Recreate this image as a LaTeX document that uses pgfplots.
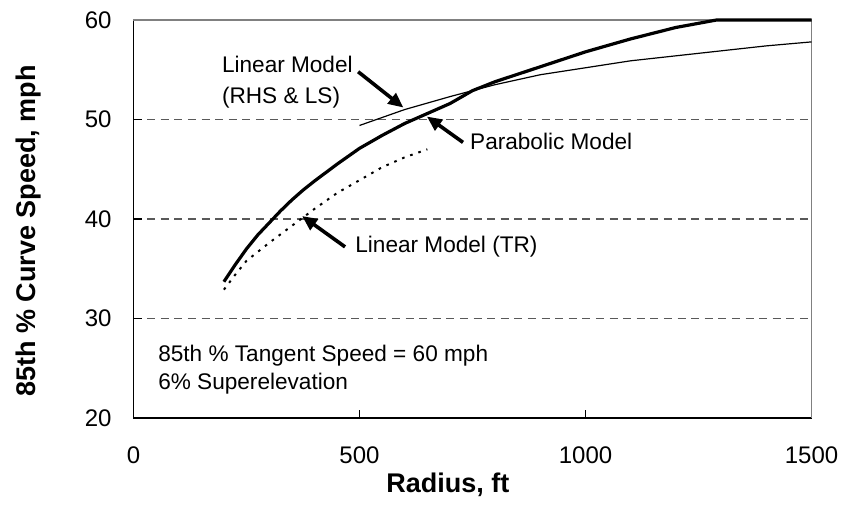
\documentclass[border=0pt]{standalone}
\usepackage{fontspec}
\setmainfont{Liberation Sans}
\usepackage{pgfplots}
\pgfplotsset{compat=1.18}
\usetikzlibrary{arrows.meta}

\begin{document}
\begin{tikzpicture}
\begin{axis}[
  width=339pt, height=199pt, scale only axis,
  xmin=0, xmax=1500, ymin=20, ymax=60,
  xtick={0,500,1000,1500}, ytick={20,30,40,50,60},
  axis x line*=bottom, axis y line*=left,
  axis line style={black, line width=0.8pt},
  tick align=inside, major tick length=4pt,
  tick style={black, line width=0.6pt},
  /pgf/number format/assume math mode=true,
  /pgf/number format/1000 sep={},
  tick label style={font=\fontsize{12}{14}\selectfont},
  yticklabel style={anchor=east, inner sep=0pt, xshift=-10.75pt},
  xticklabel style={anchor=north, inner sep=0pt, yshift=-14pt},
  ymajorgrids, grid style={black!65, line width=0.6pt, dash pattern=on 4pt off 2.8pt},
  clip=false,
]
\coordinate (SW) at (rel axis cs:0,0);
\draw[black!50, line width=0.8pt] (rel axis cs:0,1) -- (rel axis cs:1,1) -- (rel axis cs:1,0);

% linear model (TR)
\addplot[black, line width=1pt, dash pattern=on 1.3pt off 3pt] coordinates {
 (200,32.9) (225,34.4) (250,35.8) (300,37.6) (350,39.3) (400,41.0)
 (450,42.6) (500,43.9) (550,45.2) (600,46.2) (650,47.0)};
% linear model (RHS & LS)
\addplot[black, line width=0.6pt] coordinates {
 (500,49.4) (600,51.0) (700,52.3) (800,53.5) (900,54.5) (1000,55.2)
 (1100,55.9) (1200,56.4) (1300,56.9) (1400,57.4) (1500,57.8)};
% parabolic model
\addplot[black, line width=1.6pt] coordinates {
 (200,33.7) (225,35.4) (250,37.0) (275,38.4) (300,39.6) (325,40.8)
 (350,41.9) (375,42.9) (400,43.8) (450,45.5) (500,47.1) (550,48.4)
 (600,49.6) (650,50.6) (700,51.6) (750,52.9) (800,53.8) (900,55.3)
 (1000,56.8) (1100,58.1) (1200,59.25) (1290,60.0) (1500,60.0)};

\node[anchor=west, align=left, inner sep=0pt, font=\fontsize{11.3}{15.5}\selectfont]
  at (axis cs:195,53.8) {Linear Model\\(RHS \& LS)};
\draw[line width=1.8pt, -{Triangle[length=7.5pt,width=6.5pt]}]
  (axis cs:497,54.8) -- (axis cs:597,51.2);
\node[anchor=west, inner sep=0pt, font=\fontsize{11.3}{14}\selectfont]
  at (axis cs:744,47.8) {Parabolic Model};
\draw[line width=1.8pt, -{Triangle[length=7.5pt,width=6.5pt]}]
  (axis cs:729,47.7) -- (axis cs:649,50.3);
\node[anchor=west, inner sep=0pt, font=\fontsize{11.3}{14}\selectfont]
  at (axis cs:490,37.2) {Linear Model (TR)};
\draw[line width=1.8pt, -{Triangle[length=7.5pt,width=6.5pt]}]
  (axis cs:468,37.2) -- (axis cs:373,40.3);
\node[anchor=west, align=left, inner sep=0pt, font=\fontsize{11.3}{14}\selectfont]
  at (axis cs:54,24.9) {85th \% Tangent Speed = 60 mph\\6\% Superelevation};
\end{axis}
\node[anchor=base west, inner sep=0pt, font=\bfseries\fontsize{13.5}{16}\selectfont]
  at ([shift={(126.25pt,-37pt)}]SW) {Radius, ft};
\node[rotate=90, anchor=base west, inner sep=0pt, font=\bfseries\fontsize{13.5}{16}\selectfont]
  at ([shift={(-49pt,10.5pt)}]SW) {85th \% Curve Speed, mph};
% page frame as in the reference
\path ([shift={(-66.75pt,-53.5pt)}]SW) ([shift={(355.25pt,209pt)}]SW);
\end{tikzpicture}
\end{document}
